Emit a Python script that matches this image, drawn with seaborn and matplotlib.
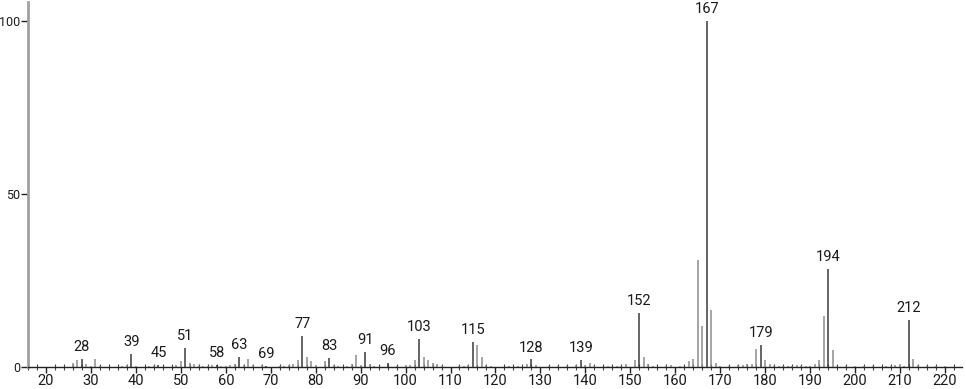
import matplotlib
matplotlib.use("Agg")
import matplotlib.pyplot as plt
import seaborn as sns
import numpy as np

# m/z values and relative intensities
mz = [26, 27, 28, 29, 30, 31, 32, 37, 38, 39, 40, 43, 44, 45, 49, 50, 51, 52, 53, 54,
      55, 56, 57, 58, 59, 60, 61, 62, 63, 64, 65, 66, 68, 69, 72, 73, 74, 75, 76, 77,
      78, 79, 80, 82, 83, 84, 85, 87, 88, 89, 90, 91, 92, 93, 96, 98, 100, 101, 102, 103,
      104, 105, 106, 107, 108, 112, 113, 114, 115, 116, 117, 118, 119, 123, 125, 127, 128, 129, 132, 134,
      136, 138, 139, 140, 141, 142, 145, 147, 148, 149, 151, 152, 153, 154, 155, 158, 159, 161, 163, 164,
      165, 166, 167, 168, 169, 170, 172, 174, 175, 176, 177, 178, 179, 180, 181, 182, 183, 184, 185, 186,
      187, 188, 189, 190, 191, 192, 193, 194, 195, 196, 198, 200, 202, 204, 207, 208, 209, 210, 211, 212,
      213, 214, 216, 218, 220]
intensity = [1.2, 2.1, 2.4, 0.8, 0.4, 2.3, 0.4, 0.4, 0.6, 3.8, 0.3, 0.3, 0.4, 0.6, 0.5, 1.6, 5.5, 1.2, 0.8, 0.4,
             0.4, 0.4, 0.5, 0.6, 0.4, 0.4, 0.5, 0.8, 2.8, 0.5, 2.4, 0.5, 0.6, 0.4, 0.4, 0.4, 0.6, 0.8, 1.9, 9.0,
             2.9, 1.8, 0.6, 1.6, 2.6, 0.5, 0.4, 0.4, 0.8, 3.4, 0.5, 4.3, 0.8, 0.4, 1.3, 0.4, 0.5, 0.5, 1.9, 8.0,
             2.8, 2.1, 1.2, 0.8, 0.4, 0.4, 0.4, 0.5, 7.2, 6.4, 2.8, 0.5, 0.4, 0.4, 0.4, 0.8, 2.2, 0.6, 0.4, 0.3,
             0.3, 0.5, 2.1, 0.6, 1.1, 0.4, 0.4, 0.4, 0.4, 0.8, 2.1, 15.7, 2.8, 0.8, 0.4, 0.4, 0.5, 0.3, 1.7, 2.3,
             31.0, 11.8, 100.0, 16.5, 1.2, 0.3, 0.3, 0.5, 0.6, 0.8, 1.0, 5.1, 6.4, 1.9, 0.8, 0.4, 0.4, 0.4, 0.4, 0.4,
             0.5, 0.4, 0.4, 0.4, 0.9, 1.9, 14.8, 28.3, 4.9, 0.4, 0.3, 0.3, 0.3, 0.3, 0.4, 0.4, 0.5, 0.9, 0.4, 13.6,
             2.4, 0.5, 0.3, 0.3, 0.3]

# labelled peaks
label_mz = [28, 39, 45, 51, 58, 63, 69, 77, 83, 91, 96, 103, 115, 128, 139, 152, 167, 179, 194, 212]

x_major = [20, 30, 40, 50, 60, 70, 80, 90, 100, 110, 120, 130, 140, 150, 160, 170, 180, 190, 200, 210, 220]
y_major = [0, 50, 100]

sns.set_theme(style="white")
plt.rcParams['font.family'] = ['Roboto', 'DejaVu Sans']

fig = plt.figure(figsize=(9.66, 3.89), dpi=100)
ax = fig.add_axes([28 / 966, 22 / 389, (962 - 28) / 966, 365 / 389])

lookup = dict(zip(mz, intensity))
mz_arr = np.array(mz)
int_arr = np.array(intensity)
is_lab = np.isin(mz_arr, label_mz)

ax.vlines(mz_arr[~is_lab], 0, int_arr[~is_lab], color="#8c8c8c", linewidth=1.1)
ax.vlines(mz_arr[is_lab], 0, int_arr[is_lab], color="#3a3a3a", linewidth=1.1)

FS = 10.5
for m in label_mz:
    ax.annotate(str(m), xy=(m, lookup[m]), xytext=(0, 3.5), textcoords="offset points",
                ha="center", va="bottom", fontsize=FS, color="#1a1a1a")

ax.set_xlim(16.22, 223.8)
ax.set_ylim(0, 105.5)

ax.set_xticks(x_major)
ax.set_xticklabels([str(v) for v in x_major])
ax.set_xticks(np.arange(16, 224, 2), minor=True)
ax.set_yticks(y_major)
ax.set_yticklabels([str(v) for v in y_major])

ax.tick_params(axis="x", which="major", direction="out", length=4, width=1,
               color="#222222", pad=1, labelsize=FS, labelcolor="#1a1a1a", bottom=True)
ax.tick_params(axis="x", which="minor", direction="inout", length=4, width=0.8,
               color="#444444", bottom=True)
ax.tick_params(axis="y", which="major", direction="out", length=5, width=1,
               color="#222222", pad=0.5, labelsize=9, labelcolor="#1a1a1a", left=True)

for s in ["top", "right"]:
    ax.spines[s].set_visible(False)
ax.spines["left"].set_color("#a0a0a0")
ax.spines["left"].set_linewidth(2)
ax.spines["bottom"].set_color("#222222")
ax.spines["bottom"].set_linewidth(1)
ax.grid(False)
ax.set_facecolor("white")

fig.savefig("out.png", dpi=100, facecolor="white")
